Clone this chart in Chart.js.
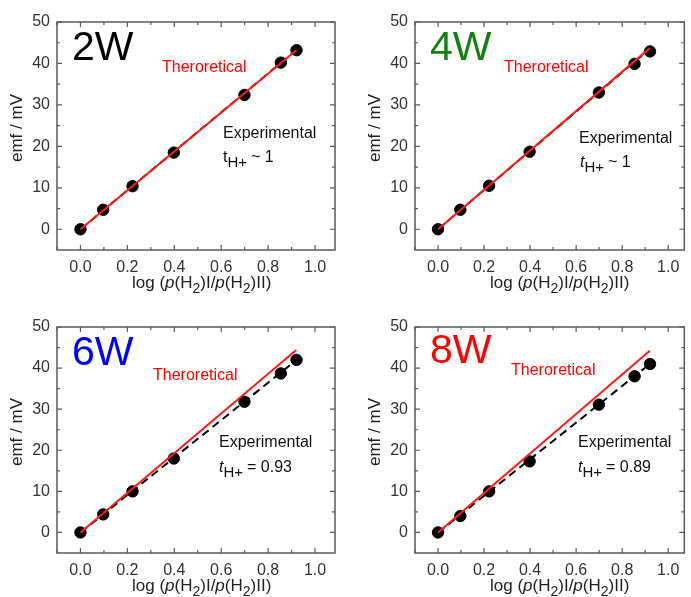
<!DOCTYPE html>
<html>
<head>
<meta charset="utf-8">
<script src="https://cdn.jsdelivr.net/npm/chart.js@4.4.0/dist/chart.umd.min.js"></script>
<style>
  html, body { margin: 0; padding: 0; background: #fff; overflow: hidden; }
  body { width: 691px; height: 597px; position: relative; }
  .panel { position: absolute; }
</style>
</head>
<body>
<div class="panel" style="left:0;top:0"><canvas id="c2W" width="345" height="300"></canvas></div>
<div class="panel" style="left:345px;top:0"><canvas id="c4W" width="346" height="300"></canvas></div>
<div class="panel" style="left:0;top:300px"><canvas id="c6W" width="345" height="300"></canvas></div>
<div class="panel" style="left:345px;top:300px"><canvas id="c8W" width="346" height="300"></canvas></div>
<script>
// x values, log(p(H2)I/p(H2)II)
const logRatio = [0, 0.097, 0.222, 0.398, 0.699, 0.854, 0.921];

// measured emf (mV)
const emf2W = [0, 4.7, 10.4, 18.5, 32.4, 40.2, 43.2];
const emf4W = [0, 4.7, 10.5, 18.7, 33.0, 39.9, 42.9];
const emf6W = [0, 4.4, 10.0, 18.0, 31.8, 38.7, 42.0];
const emf8W = [0, 4.0, 10.0, 17.3, 31.1, 38.0, 41.0];

// theoretical lines
const theoryX = [0, 0.92];
const theory2W = [0, 43.2];
const theory4W = [0, 43.7];
const theory6W = [0, 44.4];
const theory8W = [0, 44.2];

// dashed experimental fits
const fitX = [0, 0.9];
const fit2W = [0, 42.3];
const fit4W = [0, 42.6];
const fit6W = [0, 41.0];
const fit8W = [0, 40.1];

const xTicks = [0.0, 0.2, 0.4, 0.6, 0.8, 1.0];
const yTicks = [0, 10, 20, 30, 40, 50];

const panelNames = ['2W', '4W', '6W', '8W'];
const tLabels = ['~ 1', '~ 1', '= 0.93', '= 0.89'];

const FONT = "'Liberation Sans', Arial, sans-serif";

// layout of every panel (canvas px)
const panels = [
    { id: 'c2W', name: panelNames[0], emf: emf2W, theory: theory2W, fit: fit2W, t: tLabels[0], color: '#000000', italicT: false,
      area: { l: 57, t: 22, r: 335, b: 250 }, w: 345, h: 300, xmax: 1.085,
      big: [15, 38], theo: [105, 50], exp: [166, 116], tl: [166, 140] },
    { id: 'c4W', name: panelNames[1], emf: emf4W, theory: theory4W, fit: fit4W, t: tLabels[1], color: '#138013', italicT: true,
      area: { l: 70, t: 22, r: 345, b: 250 }, w: 346, h: 300, xmax: 1.07,
      big: [15, 38], theo: [89, 50], exp: [164, 121], tl: [165, 145] },
    { id: 'c6W', name: panelNames[2], emf: emf6W, theory: theory6W, fit: fit6W, t: tLabels[2], color: '#0000ff', italicT: true,
      area: { l: 57, t: 27, r: 335, b: 253 }, w: 345, h: 300, xmax: 1.085,
      big: [15, 38], theo: [96, 53], exp: [162, 120], tl: [162, 145] },
    { id: 'c8W', name: panelNames[3], emf: emf8W, theory: theory8W, fit: fit8W, t: tLabels[3], color: '#ff0000', italicT: true,
      area: { l: 70, t: 27, r: 345, b: 253 }, w: 346, h: 300, xmax: 1.07,
      big: [15, 36], theo: [96, 48], exp: [163, 120], tl: [163, 145] }
];

// frame, inward ticks, axis titles and annotations
const decoPlugin = {
    id: 'deco',
    beforeDatasetsDraw(chart) {
        const ctx = chart.ctx;
        const a = chart.chartArea;
        const xs = chart.scales.x, ys = chart.scales.y;
        ctx.save();
        ctx.strokeStyle = '#5a5a5a';
        ctx.lineWidth = 1.5;
        ctx.strokeRect(a.left, a.top, a.right - a.left, a.bottom - a.top);
        ctx.lineWidth = 1.2;
        // x ticks every 0.1 (major every 0.2)
        for (let i = -1; i <= 11; i++) {
            const v = i / 10;
            if (v < xs.min || v > xs.max) continue;
            const px = xs.getPixelForValue(v);
            const len = (i % 2 === 0) ? 5 : 3;
            ctx.beginPath();
            ctx.moveTo(px, a.bottom); ctx.lineTo(px, a.bottom - len);
            ctx.moveTo(px, a.top); ctx.lineTo(px, a.top + len);
            ctx.stroke();
        }
        // y ticks every 5 (major every 10)
        for (let v = -5; v <= 50; v += 5) {
            if (v <= ys.min || v > ys.max) continue;
            const py = ys.getPixelForValue(v);
            const len = (v % 10 === 0) ? 5 : 3;
            ctx.beginPath();
            ctx.moveTo(a.left, py); ctx.lineTo(a.left + len, py);
            ctx.moveTo(a.right, py); ctx.lineTo(a.right - len, py);
            ctx.stroke();
        }
        ctx.restore();
    },
    afterDraw(chart) {
        const p = chart.config.options.plugins.deco.panel;
        const ctx = chart.ctx;
        const a = chart.chartArea;
        ctx.save();
        ctx.textBaseline = 'alphabetic';
        ctx.textAlign = 'left';

        // y title
        ctx.save();
        ctx.translate(a.left - 40, (a.top + a.bottom) / 2 - 8);
        ctx.rotate(-Math.PI / 2);
        ctx.textAlign = 'center';
        ctx.textBaseline = 'middle';
        ctx.fillStyle = '#222';
        ctx.font = '17px ' + FONT;
        ctx.fillText('emf / mV', 0, 0);
        ctx.restore();

        // x title: log (p(H2)I/p(H2)II)
        const parts = [
            ['log (', 'n', 0], ['p', 'i', 0], ['(H', 'n', 0], ['2', 's', 5], [')I/', 'n', 0],
            ['p', 'i', 0], ['(H', 'n', 0], ['2', 's', 5], [')II)', 'n', 0]
        ];
        let x = a.left + 75;
        const by = a.bottom + 38;
        ctx.fillStyle = '#222';
        parts.forEach(([txt, style, dy]) => {
            ctx.font = style === 'i' ? 'italic 17px ' + FONT : (style === 's' ? '14px ' + FONT : '17px ' + FONT);
            ctx.fillText(txt, x, by + dy);
            x += ctx.measureText(txt).width;
        });

        // big panel label
        ctx.fillStyle = p.color;
        ctx.font = '41px ' + FONT;
        ctx.fillText(p.name, a.left + p.big[0], a.top + p.big[1]);

        // theoretical label
        ctx.fillStyle = '#ff0000';
        ctx.font = '16px ' + FONT;
        ctx.fillText('Theroretical', a.left + p.theo[0], a.top + p.theo[1]);

        // experimental label
        ctx.fillStyle = '#111';
        ctx.fillText('Experimental', a.left + p.exp[0], a.top + p.exp[1]);

        // t_H+ label
        let tx = a.left + p.tl[0];
        const ty = a.top + p.tl[1];
        ctx.font = (p.italicT ? 'italic ' : '') + '16px ' + FONT;
        ctx.fillText('t', tx, ty);
        tx += ctx.measureText('t').width;
        ctx.font = '15px ' + FONT;
        ctx.fillText('H+', tx, ty + 5);
        tx += ctx.measureText('H+').width + 4;
        ctx.font = '16px ' + FONT;
        ctx.fillText(p.t, tx, ty);
        ctx.restore();
    }
};

function toXY(xv, yv) {
    return xv.map((v, i) => ({ x: v, y: yv[i] }));
}

panels.forEach(p => {
    const a = p.area;
    new Chart(document.getElementById(p.id), {
        type: 'scatter',
        data: {
            datasets: [
                {
                    label: 'Theroretical',
                    data: toXY(theoryX, p.theory),
                    showLine: true,
                    borderColor: '#ff1a1a',
                    borderWidth: 2,
                    pointRadius: 0,
                    order: 1
                },
                {
                    label: 'Experimental fit',
                    data: toXY(fitX, p.fit),
                    showLine: true,
                    borderColor: '#000000',
                    borderWidth: 2,
                    borderDash: [8, 5],
                    pointRadius: 0,
                    order: 2
                },
                {
                    label: 'emf',
                    data: toXY(logRatio, p.emf),
                    showLine: false,
                    backgroundColor: '#000000',
                    borderColor: '#000000',
                    pointRadius: 5.7,
                    order: 3
                }
            ]
        },
        options: {
            responsive: false,
            animation: false,
            devicePixelRatio: 1,
            layout: { padding: { top: a.t, right: p.w - a.r, left: 0, bottom: 0 } },
            plugins: {
                legend: { display: false },
                tooltip: { enabled: false },
                deco: { panel: p }
            },
            scales: {
                x: {
                    type: 'linear',
                    min: -0.1,
                    max: p.xmax,
                    afterBuildTicks: s => { s.ticks = xTicks.map(v => ({ value: v })); },
                    afterFit: s => { s.height = p.h - a.b; },
                    grid: { display: false, drawTicks: false },
                    border: { display: false },
                    ticks: {
                        padding: 8,
                        maxRotation: 0,
                        autoSkip: false,
                        color: '#333',
                        font: { family: FONT, size: 16 },
                        callback: v => Number(v).toFixed(1)
                    }
                },
                y: {
                    type: 'linear',
                    min: -5,
                    max: 50,
                    afterBuildTicks: s => { s.ticks = yTicks.map(v => ({ value: v })); },
                    afterFit: s => { s.width = a.l; },
                    grid: { display: false, drawTicks: false },
                    border: { display: false },
                    ticks: {
                        padding: 7,
                        autoSkip: false,
                        color: '#333',
                        font: { family: FONT, size: 16 },
                        callback: v => String(v)
                    }
                }
            }
        },
        plugins: [decoPlugin]
    });
});
</script>
</body>
</html>
